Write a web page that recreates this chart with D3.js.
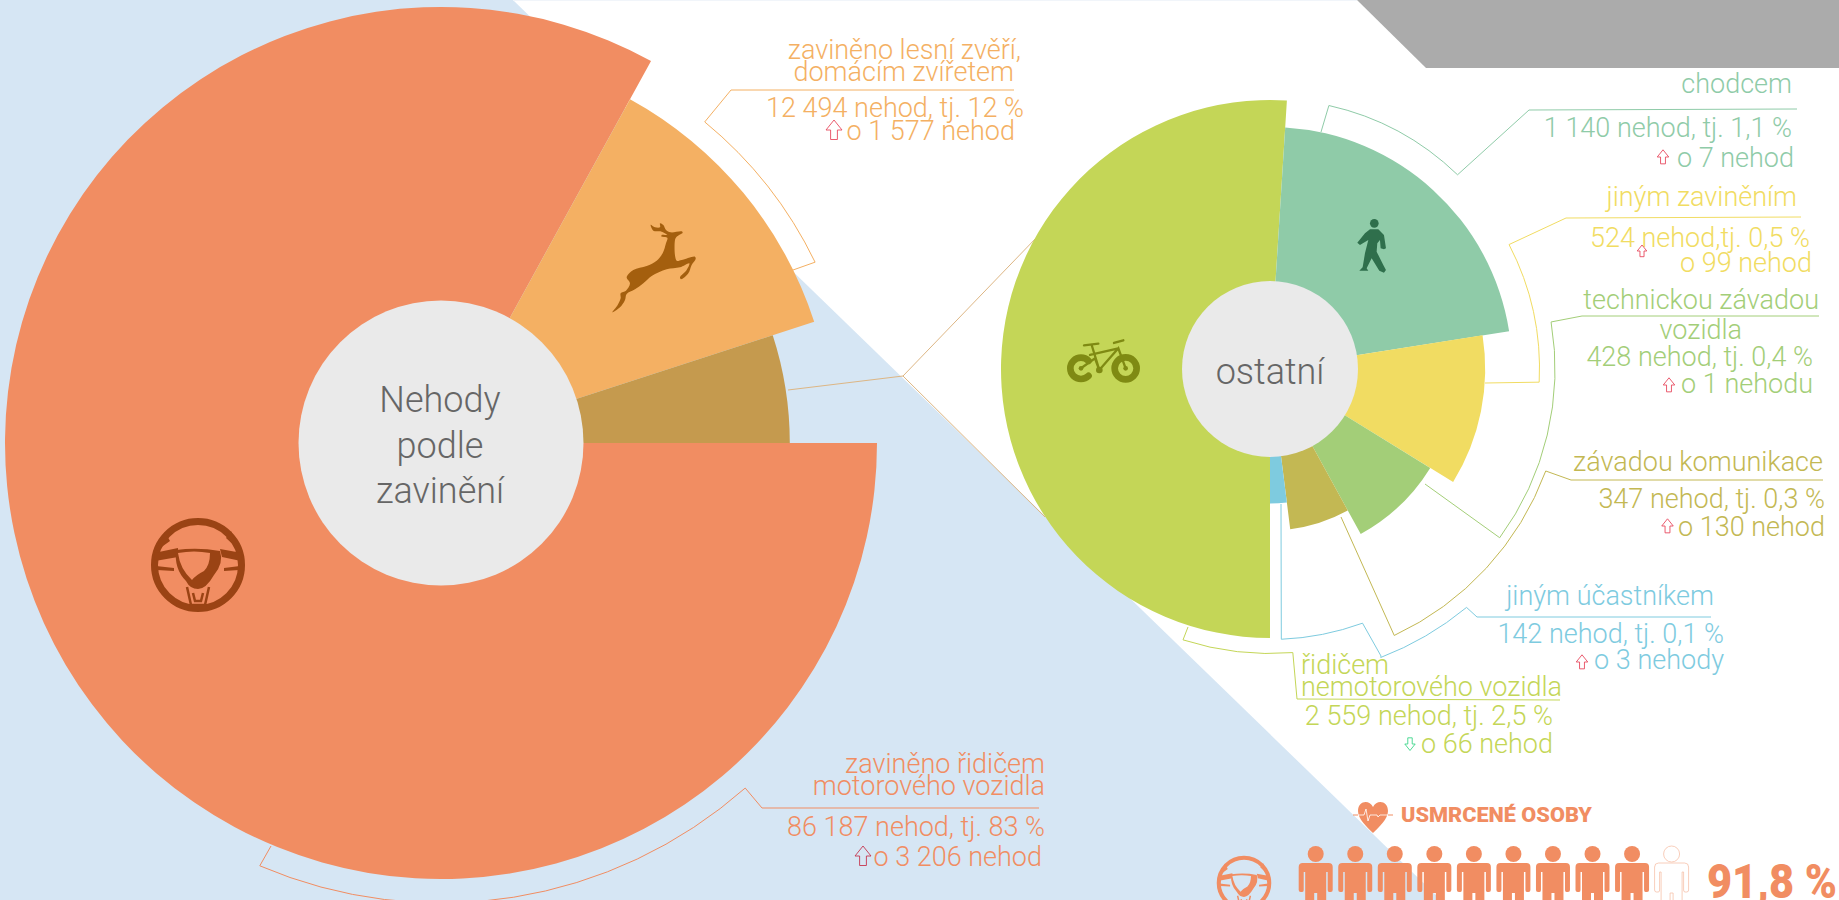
<!DOCTYPE html>
<html lang="cs">
<head>
<meta charset="utf-8">
<title>Nehody podle zavinění</title>
<script src="https://cdn.jsdelivr.net/npm/d3@7/dist/d3.min.js"></script>
<style>
html,body{margin:0;padding:0;background:#fff;overflow:hidden}
svg{display:block}
text{font-family:Roboto,"Noto Sans",sans-serif;font-weight:300}
</style>
</head>
<body>
<svg id="c" width="1839" height="900" viewBox="0 0 1839 900"></svg>
<script>
// ---------- data ----------
const mainCategories = ["řidičem motorového vozidla", "lesní zvěří, domácím zvířetem", "ostatní"];
const mainShare      = [83, 12, 5];      // share of the circle, %
const mainRing       = [10, 9, 8];       // radial step of the wedge

const otherCategories = ["řidičem nemotorového vozidla", "chodcem", "jiným zaviněním", "technickou závadou vozidla", "závadou komunikace", "jiným účastníkem"];
const otherShare      = [51, 21.5, 11.3, 8.2, 6, 2];
const otherRing       = [10, 9, 8, 7, 6, 5];

const mainTitle  = ["Nehody", "podle", "zavinění"];
const otherTitle = ["ostatní"];

const labelLines = [
  "zaviněno lesní zvěří,", "domácím zvířetem", "12 494 nehod, tj. 12 %", "o 1 577 nehod",
  "zaviněno řidičem", "motorového vozidla", "86 187 nehod, tj. 83 %", "o 3 206 nehod",
  "chodcem", "1 140 nehod, tj. 1,1 %", "o 7 nehod",
  "jiným zaviněním", "524 nehod,tj. 0,5 %", "o 99 nehod",
  "technickou závadou", "vozidla", "428 nehod, tj. 0,4 %", "o 1 nehodu",
  "závadou komunikace", "347 nehod, tj. 0,3 %", "o 130 nehod",
  "jiným účastníkem", "142 nehod, tj. 0,1 %", "o 3 nehody",
  "řidičem", "nemotorového vozidla", "2 559 nehod, tj. 2,5 %", "o 66 nehod"
];
const deathsTitle = "USMRCENÉ OSOBY";
const deathsPct   = "91,8 %";
const deathsPeopleFull = [1,1,1,1,1,1,1,1,1,0];   // nine of ten filled

// ---------- layout & style ----------
const C = {driver:"#F18D62", animal:"#F4B063", mainOther:"#C59A4E", bike:"#C4D657", ped:"#8FCBA8",
           yellow:"#F1DC62", tech:"#A3CE78", road:"#C3B853", blue:"#7ECBDF"};
const mainColor  = d3.scaleOrdinal(mainCategories,  [C.driver, C.animal, C.mainOther]);
const otherColor = d3.scaleOrdinal(otherCategories, [C.bike, C.ped, C.yellow, C.tech, C.road, C.blue]);

const rad = d => d * Math.PI / 180;
const svg = d3.select("#c");

// background shapes
svg.append("path").attr("d","M0,0H513L1441,900H0Z").attr("fill","#D6E6F4");
svg.append("rect").attr("x",513).attr("y",0).attr("width",844).attr("height",1).attr("fill","#F1F5FA");
svg.append("path").attr("d","M1357,0H1839V68H1426Z").attr("fill","#ABABAB");

function donut(cx, cy, rMax, rIn, cats, share, ring, color, startDeg){
  const rScale = d3.scaleLinear().domain([0,10]).range([0,rMax]);
  const pie = d3.pie().sort(null).value(d=>d.v).startAngle(rad(startDeg)).endAngle(rad(startDeg+360));
  const rows = cats.map((c,i)=>({c, v:share[i], ring:ring[i]}));
  const arc = d3.arc().innerRadius(rIn-2).outerRadius(d=>rScale(d.data.ring));
  const g = svg.append("g").attr("transform",`translate(${cx},${cy})`);
  g.selectAll("path").data(pie(rows)).join("path").attr("d",arc).attr("fill",d=>color(d.data.c));
  g.append("circle").attr("r",rIn).attr("fill","#EAEAEA");
  return g;
}

const LC = [441,443], RC = [1270,369];

// leader lines (drawn below the wedges)
function leader(center, color, before, r, a0, a1, after){
  const p = d3.path();
  const [cx,cy] = center;
  p.moveTo(before[0], before[1]);
  const s = [cx + r*Math.sin(rad(a0)), cy - r*Math.cos(rad(a0))];
  p.lineTo(s[0], s[1]);
  p.arc(cx, cy, r, rad(a0-90), rad(a1-90), a1<a0);
  after.forEach(q=>p.lineTo(q[0],q[1]));
  svg.append("path").attr("d",p.toString()).attr("fill","none").attr("stroke",color).attr("stroke-width",1);
}
leader(LC, C.animal, [793,270], 415.5, 64.2, 39.4, [[731,90],[1014,90]]);
leader(LC, C.driver, [271,846], 460, 203.2, 138.6, [[762,808],[1039,808]]);
leader(RC, C.ped,    [1321,132], 270, 12.6, 44, [[1529,110],[1797,109]]);
leader(RC, C.yellow, [1485,383], 269.5, 92.8, 62.5, [[1566,218],[1801,217]]);
leader(RC, C.tech,   [1425,484], 285, 126.3, 80.5, [[1582,316],[1819,316]]);
leader(RC, C.road,   [1341,517], 294, 155, 110.3, [[1571,480],[1823,480]]);
leader(RC, C.blue,   [1281,504], 270.5, 177.6, 160, [[1381,656]]);
leader(RC, C.blue,   [1381,656], 309, 159, 140.5, [[1477,617],[1711,617]]);
leader(RC, C.bike,   [1188,627], 284.5, 197.8, 175.4, [[1297,699],[1560,700]]);

// connector between charts
svg.append("path").attr("d","M788,390L903,376L1037,237M903,376L1045,517")
   .attr("fill","none").attr("stroke","#DDB684").attr("stroke-width",1);

donut(LC[0], LC[1], 436, 142.5, mainCategories, mainShare, mainRing, mainColor, 90);
donut(RC[0], RC[1], 269, 88,   otherCategories, otherShare, otherRing, otherColor, 180);

// centre titles
const leftTitleY = [412, 458, 503];
svg.selectAll(".mt").data(mainTitle).join("text").attr("class","mt")
   .attr("x",440).attr("y",(d,i)=>leftTitleY[i]).attr("text-anchor","middle")
   .attr("font-size",36).attr("fill","#666").text(d=>d);
svg.append("text").text(otherTitle[0]).attr("x",1270).attr("y",384).attr("text-anchor","middle")
   .attr("font-size",36).attr("fill","#666");

// labels: x, baseline, anchor, colour for each of labelLines
const labelPlace = [
 [1021,59,"end",C.animal],[1014,81,"end",C.animal],[1024,117,"end",C.animal],[1015,140,"end",C.animal],
 [1045,773,"end",C.driver],[1045,795,"end",C.driver],[1045,836,"end",C.driver],[1042,866,"end",C.driver],
 [1792,93,"end",C.ped],[1792,137,"end",C.ped],[1794,167,"end",C.ped],
 [1797,206,"end",C.yellow],[1810,247,"end",C.yellow],[1812,272,"end",C.yellow],
 [1819,309,"end",C.tech],[1742,339,"end",C.tech],[1813,366,"end",C.tech],[1813,393,"end",C.tech],
 [1823,471,"end",C.road],[1825,508,"end",C.road],[1825,536,"end",C.road],
 [1714,605,"end",C.blue],[1724,643,"end",C.blue],[1724,669,"end",C.blue],
 [1301,674,"start",C.bike],[1301,696,"start",C.bike],[1553,725,"end",C.bike],[1553,753,"end",C.bike]
];
svg.append("g").selectAll("text").data(labelLines).join("text")
   .attr("x",(d,i)=>labelPlace[i][0]).attr("y",(d,i)=>labelPlace[i][1])
   .attr("text-anchor",(d,i)=>labelPlace[i][2]).attr("fill",(d,i)=>labelPlace[i][3])
   .attr("font-size",27).text(d=>d);

// change arrows
function arrow(x,y,s,up,color){
  const d = "M0,-10L8,0H3.4V9.5H-3.4V0H-8Z";
  svg.append("path").attr("d",d).attr("fill","none").attr("stroke",color).attr("stroke-width",1/s*0.9)
     .attr("transform",`translate(${x},${y}) scale(${s},${up?s:-s})`);
}
const red="#E84A5F", grn="#3CD68A";
arrow(834,130,1,true,red);
arrow(863,856,1,true,"#C6364F");
arrow(1663,157,.72,true,red);
arrow(1642,251,.6,true,red);
arrow(1669,385,.72,true,red);
arrow(1667.5,526,.72,true,red);
arrow(1582,662,.72,true,red);
arrow(1410,744,.65,false,grn);

// icons
// deer
const deer=[[97,367],[113,345],[122,325],[122,310],[138,302],[150,280],[140,262],[160,240],[200,228],[230,212],[248,190],[258,160],[262,143],[245,140],[245,135],[262,135],[245,125],[220,122],[212,104],[225,112],[240,112],[240,100],[250,105],[258,120],[272,127],[305,124],[308,128],[290,140],[285,150],[290,212],[305,210],[345,200],[347,207],[335,225],[325,250],[303,268],[300,262],[320,240],[328,220],[300,232],[260,238],[215,258],[190,280],[165,298],[140,312],[135,330],[120,352]];
svg.append("path").attr("transform","translate(580,190) scale(.3333)")
   .attr("d",d3.line().curve(d3.curveCatmullRomClosed.alpha(.5))(deer)).attr("fill","#A45F0E");

// pedestrian
const walker=[[990,148],[1015,148],[1032,165],[1038,205],[1032,208],[1022,205],[1020,180],[1012,190],[1010,215],[1030,255],[1038,270],[1032,278],[1018,272],[995,235],[980,265],[985,272],[958,272],[968,262],[975,220],[985,180],[960,195],[952,188],[975,160]];
const wg = svg.append("g").attr("transform","translate(1040,180) scale(.3333)").attr("fill","#2F6F4C");
wg.append("path").attr("d","M"+walker.join("L")+"Z");
wg.append("circle").attr("cx",1003).attr("cy",130).attr("r",13);

// bike
const bg = svg.append("g").attr("transform","translate(1040,180) scale(.3333)").attr("stroke","#7F8A13").attr("fill","none").attr("stroke-linecap","round");
bg.append("path").attr("stroke-width",20).attr("d",(()=>{const p=d3.path();p.arc(123,565,32,rad(-45),rad(45),true);return p.toString();})());
bg.append("circle").attr("cx",257).attr("cy",565).attr("r",33).attr("stroke-width",20);
bg.append("path").attr("stroke-width",7).attr("d","M155,495L178,570L235,505L257,565M150,525L235,505M123,565L165,535L178,570M222,489L250,481M132,496L175,491");
bg.append("circle").attr("cx",123).attr("cy",565).attr("r",7).attr("fill","#7F8A13").attr("stroke","none");
bg.append("circle").attr("cx",257).attr("cy",565).attr("r",7).attr("fill","#7F8A13").attr("stroke","none");
bg.append("circle").attr("cx",178).attr("cy",570).attr("r",10).attr("fill","#7F8A13").attr("stroke","none");

// steering wheel
function wheel(x,y,s,fg,bgc){
  const g = svg.append("g").attr("transform",`translate(${x},${y}) scale(${s})`);
  g.append("circle").attr("r",43.5).attr("fill","none").attr("stroke",fg).attr("stroke-width",7);
  g.append("path").attr("fill",fg).attr("d","M-42,-14L-28,-24L-33,-33ZM42,-14L28,-27L33,-34Z");
  g.append("path").attr("fill",fg).attr("d","M-44,-12L-20,-17L-20,-8L-43,-4ZM44,-12L22,-16L24,-8L43,-4ZM-42,1L-24,3L-24,6L-41,5ZM42,1L26,3L26,6L41,5Z");
  g.append("path").attr("fill",fg).attr("d","M-22,-15Q0,-18 22,-14Q26,-2 16,10Q8,24 0,24Q-8,24 -12,16Q-24,4 -22,-15Z");
  g.append("path").attr("fill",bgc).attr("d","M-20,-12Q-4,-15 12,-12Q12,0 6,6Q-2,10 -6,15Q-18,4 -20,-12Z");
  g.append("path").attr("fill","none").attr("stroke",fg).attr("stroke-width",2.5).attr("d","M-11,22L-7,40H7L11,22M-5,28L-3,36H3L5,28");
}
wheel(198,565,1,"#9A4314",C.driver);
wheel(1244,883,.58,C.driver,"#D6E6F4");

// deaths block
const heart = svg.append("g").attr("transform","translate(1373,817)");
heart.append("path").attr("fill",C.driver).attr("d","M0,16C-6,10 -15,2 -15,-6C-15,-16 -4,-18 0,-10C4,-18 15,-16 15,-6C15,2 6,10 0,16Z");
heart.append("path").attr("fill","none").attr("stroke",C.driver).attr("d","M-20,-2H-15M15,-2H20");
heart.append("path").attr("fill","none").attr("stroke","#fff").attr("stroke-width",.8).attr("d","M-15,-2H-9L-7,-8L-5,4L-3,-2H4L5,0L7,-2H15");
svg.append("text").text(deathsTitle).attr("x",1401).attr("y",822).attr("font-size",21)
   .style("font-weight",900).attr("fill",C.driver).attr("textLength",191).attr("lengthAdjust","spacingAndGlyphs");
const personBody="M-13,9H13Q17,9 17,13V36Q17,38 15,38H13.5Q12,38 12,36V18H10.5V60H1.5V39H-1.5V60H-10.5V18H-12V36Q-12,38 -13.5,38H-15Q-17,38 -17,36V13Q-17,9 -13,9Z";
const xScale = d3.scalePoint().domain(d3.range(deathsPeopleFull.length)).range([1315.7,1671.6]);
const people = svg.append("g").selectAll("g").data(deathsPeopleFull).join("g")
  .attr("transform",(d,i)=>`translate(${xScale(i)},854)`);
people.append("circle").attr("r",8);
people.append("path").attr("d",personBody);
people.selectAll("*").attr("fill",function(){const d=d3.select(this.parentNode).datum();return d?C.driver:"none";})
  .attr("stroke",function(){const d=d3.select(this.parentNode).datum();return d?"none":"#F6C2A9";}).attr("stroke-width",.8);
svg.append("text").text(deathsPct).attr("x",1707).attr("y",898).attr("font-size",49)
   .style("font-weight",900).attr("fill",C.driver).attr("textLength",130).attr("lengthAdjust","spacingAndGlyphs");
</script>
</body>
</html>
